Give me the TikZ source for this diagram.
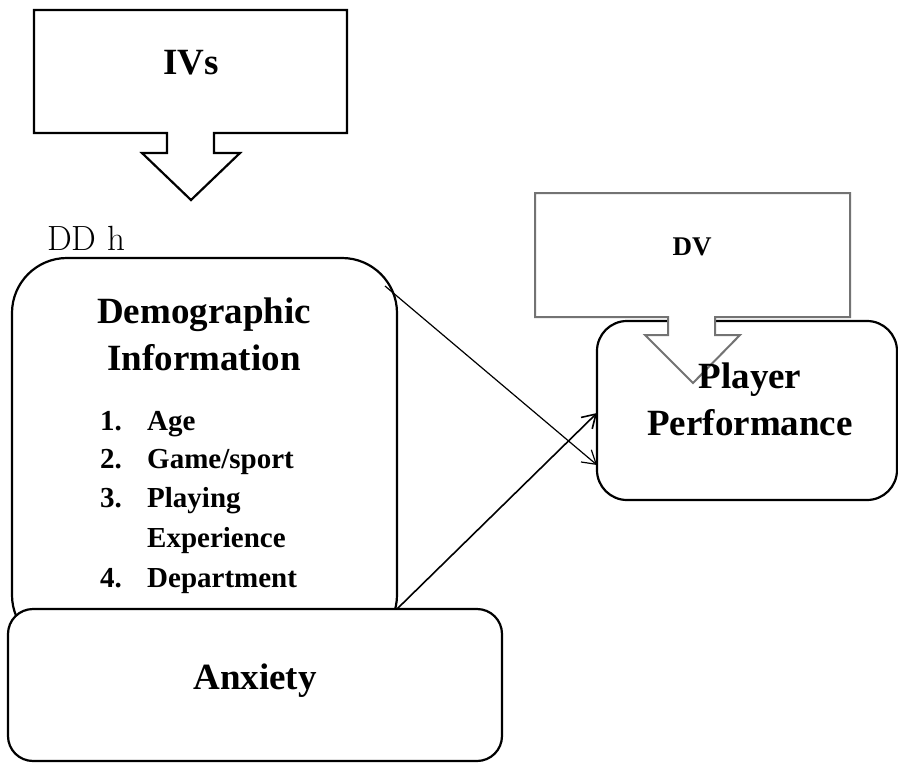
\documentclass[tikz,border=0pt]{standalone}
\usepackage{fontspec}
\setmainfont{Liberation Serif}
\newfontfamily\lmfont{Latin Modern Roman}
\usetikzlibrary{arrows.meta,calc}
\begin{document}
\begin{tikzpicture}[x=1pt,y=-1pt,
  rbox/.style={draw, line width=2.2pt, fill=white, inner sep=0pt, outer sep=0pt},
  callout/.style={draw, line width=2.2pt, fill=white, line join=miter},
  graycallout/.style={draw=gray!90!black, line width=2pt, fill=white, line join=miter},
  title/.style={font=\bfseries\fontsize{37}{44}\selectfont, anchor=base, inner sep=0pt},
  item/.style={font=\bfseries\fontsize{29}{34}\selectfont, anchor=base west, inner sep=0pt},
  link/.style={-{Straight Barb[length=13pt,width=16pt]}, line width=1.2pt}]
\useasboundingbox (0,0) rectangle (898,763);

% IVs callout
\draw[callout] (34,10) -- (347,10) -- (347,133) -- (214,133) -- (214,153) -- (240,153)
  -- (191,200) -- (142,153) -- (167,153) -- (167,133) -- (34,133) -- cycle;
\node[title] (ivs) at (191,74) {IVs};

\node[font=\lmfont\fontsize{35}{40}\selectfont, anchor=base west, inner sep=0pt] (ddh) at (47,250) {DD h};

% boxes
\node[rbox, rounded corners=55pt, minimum width=385pt, minimum height=392pt] (demo) at (204.5,454) {};
\node[rbox, rounded corners=25pt, minimum width=494pt, minimum height=152pt] (anx) at (255,685) {};

\coordinate (d1) at (385,286);
\coordinate (d2) at (demo.east |- anx.north);

\node[rbox, rounded corners=30pt, minimum width=300pt, minimum height=179pt] (pp) at (747,410.5) {};

\draw[link] (d1) -- ($(pp.west)+(0,54.5)$);
\draw[link, line width=1.6pt] (d2) -- ($(pp.west)+(0,2.5)$);

% DV callout
\draw[graycallout] (535,193) -- (850,193) -- (850,317) -- (715,317) -- (715,335) -- (740,335)
  -- (693,383) -- (645,335) -- (668,335) -- (668,317) -- (535,317) -- cycle;
\node[font=\bfseries\fontsize{27}{30}\selectfont, anchor=base, inner sep=0pt] (dv) at (692,255) {DV};

% texts
\node[title] (demo1) at (204,323) {Demographic};
\node[title] (demo2) at (204,370) {Information};
\node[item] (n1) at (100,430) {1.};
\node[item] (i1) at (147,430) {Age};
\node[item] (n2) at (100,468) {2.};
\node[item] (i2) at (147,468) {Game/sport};
\node[item] (n3) at (100,507) {3.};
\node[item] (i3) at (147,507) {Playing};
\node[item] (i3b) at (147,547) {Experience};
\node[item] (n4) at (100,587) {4.};
\node[item] (i4) at (147,587) {Department};

\node[title] (pp1) at (750,388) {Player};
\node[title] (pp2) at (750,435) {Performance};
\node[title] (anxt) at (255,689) {Anxiety};
\end{tikzpicture}
\end{document}
